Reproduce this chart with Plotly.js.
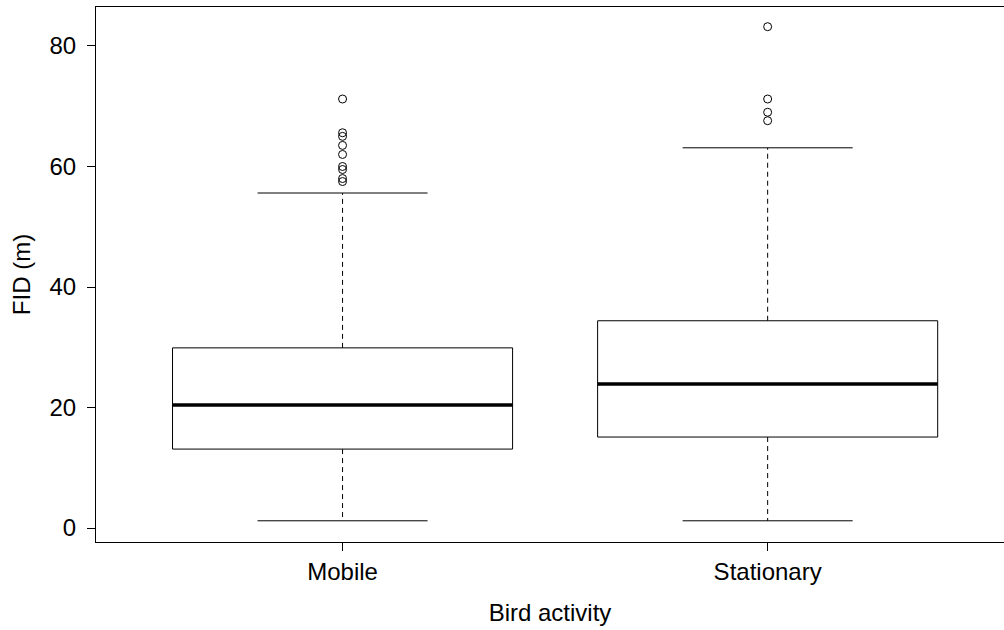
<!DOCTYPE html>
<html>
<head>
<meta charset="utf-8">
<script src="https://cdn.plot.ly/plotly-3.0.1.min.js"></script>
<style>html,body{margin:0;padding:0;background:#fff;}</style>
</head>
<body>
<div id="chart" style="width:1004px;height:630px;"></div>
<script>
// Data
const categories = ["Mobile", "Stationary"];
const lowerWhisker = [1.2, 1.2];
const q1 = [13.1, 15.1];
const median = [20.4, 23.9];
const q3 = [29.9, 34.4];
const upperWhisker = [55.6, 63.1];
const outliersMobile = [71.2, 65.6, 65.0, 63.5, 62.0, 60.0, 59.5, 58.0, 57.5];
const outliersStationary = [83.2, 71.2, 69.0, 67.6];
const outliers = [outliersMobile, outliersStationary];

const boxHalf = 0.4;
const capHalf = 0.2;
const lineColor = "#000000";
const traces = [];

categories.forEach((cat, i) => {
  const x = i + 1;
  // box body
  traces.push({
    type: "scatter", mode: "lines", showlegend: false, hoverinfo: "skip",
    x: [x - boxHalf, x + boxHalf, x + boxHalf, x - boxHalf, x - boxHalf],
    y: [q1[i], q1[i], q3[i], q3[i], q1[i]],
    line: {color: lineColor, width: 1}
  });
  // median
  traces.push({
    type: "scatter", mode: "lines", showlegend: false, hoverinfo: "skip",
    x: [x - boxHalf, x + boxHalf], y: [median[i], median[i]],
    line: {color: lineColor, width: 3.5}
  });
  // whiskers (dashed)
  traces.push({
    type: "scatter", mode: "lines", showlegend: false, hoverinfo: "skip",
    x: [x, x, null, x, x],
    y: [q3[i], upperWhisker[i], null, q1[i], lowerWhisker[i]],
    line: {color: lineColor, width: 1, dash: "5px,4px"}
  });
  // caps
  traces.push({
    type: "scatter", mode: "lines", showlegend: false, hoverinfo: "skip",
    x: [x - capHalf, x + capHalf, null, x - capHalf, x + capHalf],
    y: [upperWhisker[i], upperWhisker[i], null, lowerWhisker[i], lowerWhisker[i]],
    line: {color: lineColor, width: 1}
  });
  // outliers
  traces.push({
    type: "scatter", mode: "markers", showlegend: false, hoverinfo: "skip",
    x: outliers[i].map(() => x), y: outliers[i],
    marker: {symbol: "circle-open", size: 8, color: lineColor, line: {width: 1, color: lineColor}}
  });
});

const font = {family: "Liberation Sans, Arial, sans-serif", size: 24, color: "#000"};

const layout = {
  width: 1004, height: 630,
  margin: {l: 96, r: 0, t: 7, b: 88, pad: 0},
  paper_bgcolor: "#fff", plot_bgcolor: "#fff",
  font: font,
  showlegend: false,
  xaxis: {
    range: [0.42, 2.556],
    tickvals: [1, 2], ticktext: categories,
    showgrid: false, zeroline: false,
    showline: true, mirror: true, linecolor: "#000", linewidth: 1,
    ticks: "outside", ticklen: 8, tickcolor: "#000", tickwidth: 1,
    tickfont: font,
    title: {text: "Bird activity", font: font, standoff: 20}
  },
  yaxis: {
    range: [-2.32, 86.47],
    tickvals: [0, 20, 40, 60, 80],
    showgrid: false, zeroline: false,
    showline: true, linecolor: "#000", linewidth: 1,
    ticks: "outside", ticklen: 8, tickcolor: "#000", tickwidth: 1,
    tickfont: font, ticklabelstandoff: 6,
    title: {text: "FID (m)", font: font, standoff: 12}
  }
};

Plotly.newPlot("chart", traces, layout, {displayModeBar: false, staticPlot: true});
</script>
</body>
</html>
